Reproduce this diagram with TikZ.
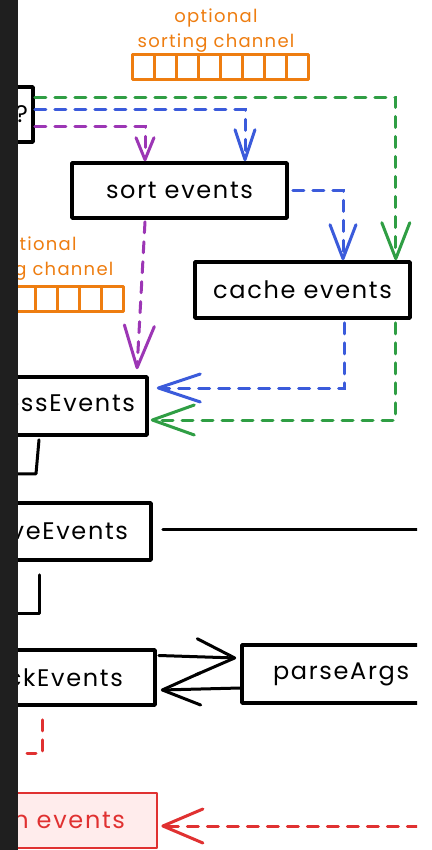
\documentclass[tikz,border=0pt]{standalone}
\usepackage{fontspec}
\setmainfont{Poppins}[LetterSpace=7]
\usetikzlibrary{arrows.meta}

\definecolor{stripgray}{HTML}{1F1F1F}
\definecolor{exgreen}{HTML}{2F9E44}
\definecolor{exblue}{HTML}{3B5BDB}
\definecolor{expurple}{HTML}{9C36B5}
\definecolor{exorange}{HTML}{EE7D10}
\definecolor{exred}{HTML}{E03131}
\definecolor{exredfill}{HTML}{FFECEC}

\begin{document}
\begin{tikzpicture}[x=1pt,y=-1pt,
  box/.style={draw=black, line width=3.6pt, fill=white, rectangle, inner sep=0pt,
    line join=round, font=\fontsize{24}{28}\selectfont},
  redbox/.style={box, draw=exred, fill=exredfill, text=exred, line width=2.8pt},
  flow/.style={line width=3pt, dash pattern=on 11pt off 9pt, line cap=round},
  solidline/.style={line width=3pt, line cap=round, line join=round},
  chan/.style={draw=exorange, line width=3pt, line join=round},
  chanlabel/.style={text=exorange, align=center, font=\fontsize{18}{25}\selectfont},
  barb/.style n args={2}{-{Straight Barb[length=#1, width=#2, round]}}
]
\fill[white] (0,0) rectangle (431,850);
\useasboundingbox (0,0) rectangle (431,850);

\begin{scope}
\clip (18,0) rectangle (417,850);

% sorting channels
\node[chanlabel] (chlabA) at (216,31) {optional\\sorting channel};
\foreach \i in {0,...,7} \draw[chan] (132+22*\i,55) rectangle ++(22,25);
\node[chanlabel] (chlabB) at (35,259) {optional\\sorting channel};
\foreach \i in {0,...,7} \draw[chan] (-53+22*\i,286) rectangle ++(22,25);

% boxes
\node[box, text width=43pt, align=right, inner xsep=5pt, minimum height=55pt] (q) at (6.5,114.5) {?};
\node[box, minimum width=215pt, minimum height=55pt] (sort) at (179.5,190.5) {sort events};
\node[box, minimum width=215pt, minimum height=56pt] (cache) at (302.5,290) {cache events};
\node[box, text width=203pt, align=right, inner xsep=12pt, minimum height=58pt] (proc) at (33.5,406) {processEvents};
\node[box, text width=185pt, align=right, inner xsep=23pt, minimum height=57pt] (save) at (35.5,531.5) {saveEvents};
\node[box, text width=161pt, align=right, inner xsep=37pt, minimum height=55pt] (check) at (37.5,677.5) {checkEvents};
\node[box, text width=176pt, align=left, inner xsep=31pt, minimum height=58pt] (parse) at (361,674) {parseArgs};
\node[redbox, text width=213pt, align=right, inner xsep=32pt, minimum height=55pt] (ret) at (18.5,820.5) {return events};

% coloured flows
\draw[flow, exgreen, barb={36pt}{28pt}] ([yshift=17pt]q.east) -| ([xshift=-16pt]cache.north east);
\draw[flow, exblue, barb={30pt}{20pt}] ([yshift=5pt]q.east) -| ([xshift=65.5pt]sort.north);
\draw[flow, expurple, barb={22pt}{18pt}] ([yshift=-12pt]q.east) -| ([xshift=-34.5pt]sort.north);
\draw[flow, exblue, barb={34pt}{26pt}] ([xshift=4pt]sort.east) -| ([xshift=40.5pt]cache.north);
\draw[flow, expurple, barb={42pt}{30pt}] ([xshift=-34.5pt,yshift=-2pt]sort.south) -- ([xshift=103.5pt,yshift=6pt]proc.north);
\draw[flow, exblue, barb={42pt}{28pt}] ([xshift=42pt,yshift=-3pt]cache.south) |- ([xshift=8pt,yshift=18pt]proc.east);
\draw[flow, exgreen, barb={42pt}{30pt}] ([xshift=-16pt,yshift=-3pt]cache.south east) |- ([xshift=2pt,yshift=-14pt]proc.east);

% black links
\draw[solidline] ([xshift=5.5pt,yshift=-3pt]proc.south) -- ++(-3,34) -- ++(-60,0);
\draw[solidline] ([xshift=3.5pt,yshift=-13pt]save.south) -- ++(0,39) -- ++(-60,0);
\draw[solidline] ([xshift=10pt,yshift=2.5pt]save.east) -- ++(320,0);
\draw[solidline, barb={38pt}{36pt}] ([xshift=2pt,yshift=22pt]check.east) -- ([xshift=-4pt,yshift=16pt]parse.west);
\draw[solidline, barb={38pt}{32pt}] ([yshift=-14pt]parse.west) -- ([xshift=4pt,yshift=-12.5pt]check.east);

% red path
\draw[flow, exred] ([xshift=4.5pt,yshift=-13pt]check.south) -- ++(0,34) -- ++(-15,0);
\draw[flow, exred, barb={40pt}{34pt}] ([xshift=300pt,yshift=-5.5pt]ret.east) -- ([xshift=3pt,yshift=-5.5pt]ret.east);
\end{scope}

\fill[stripgray] (0,0) rectangle (18,850);
\end{tikzpicture}
\end{document}
